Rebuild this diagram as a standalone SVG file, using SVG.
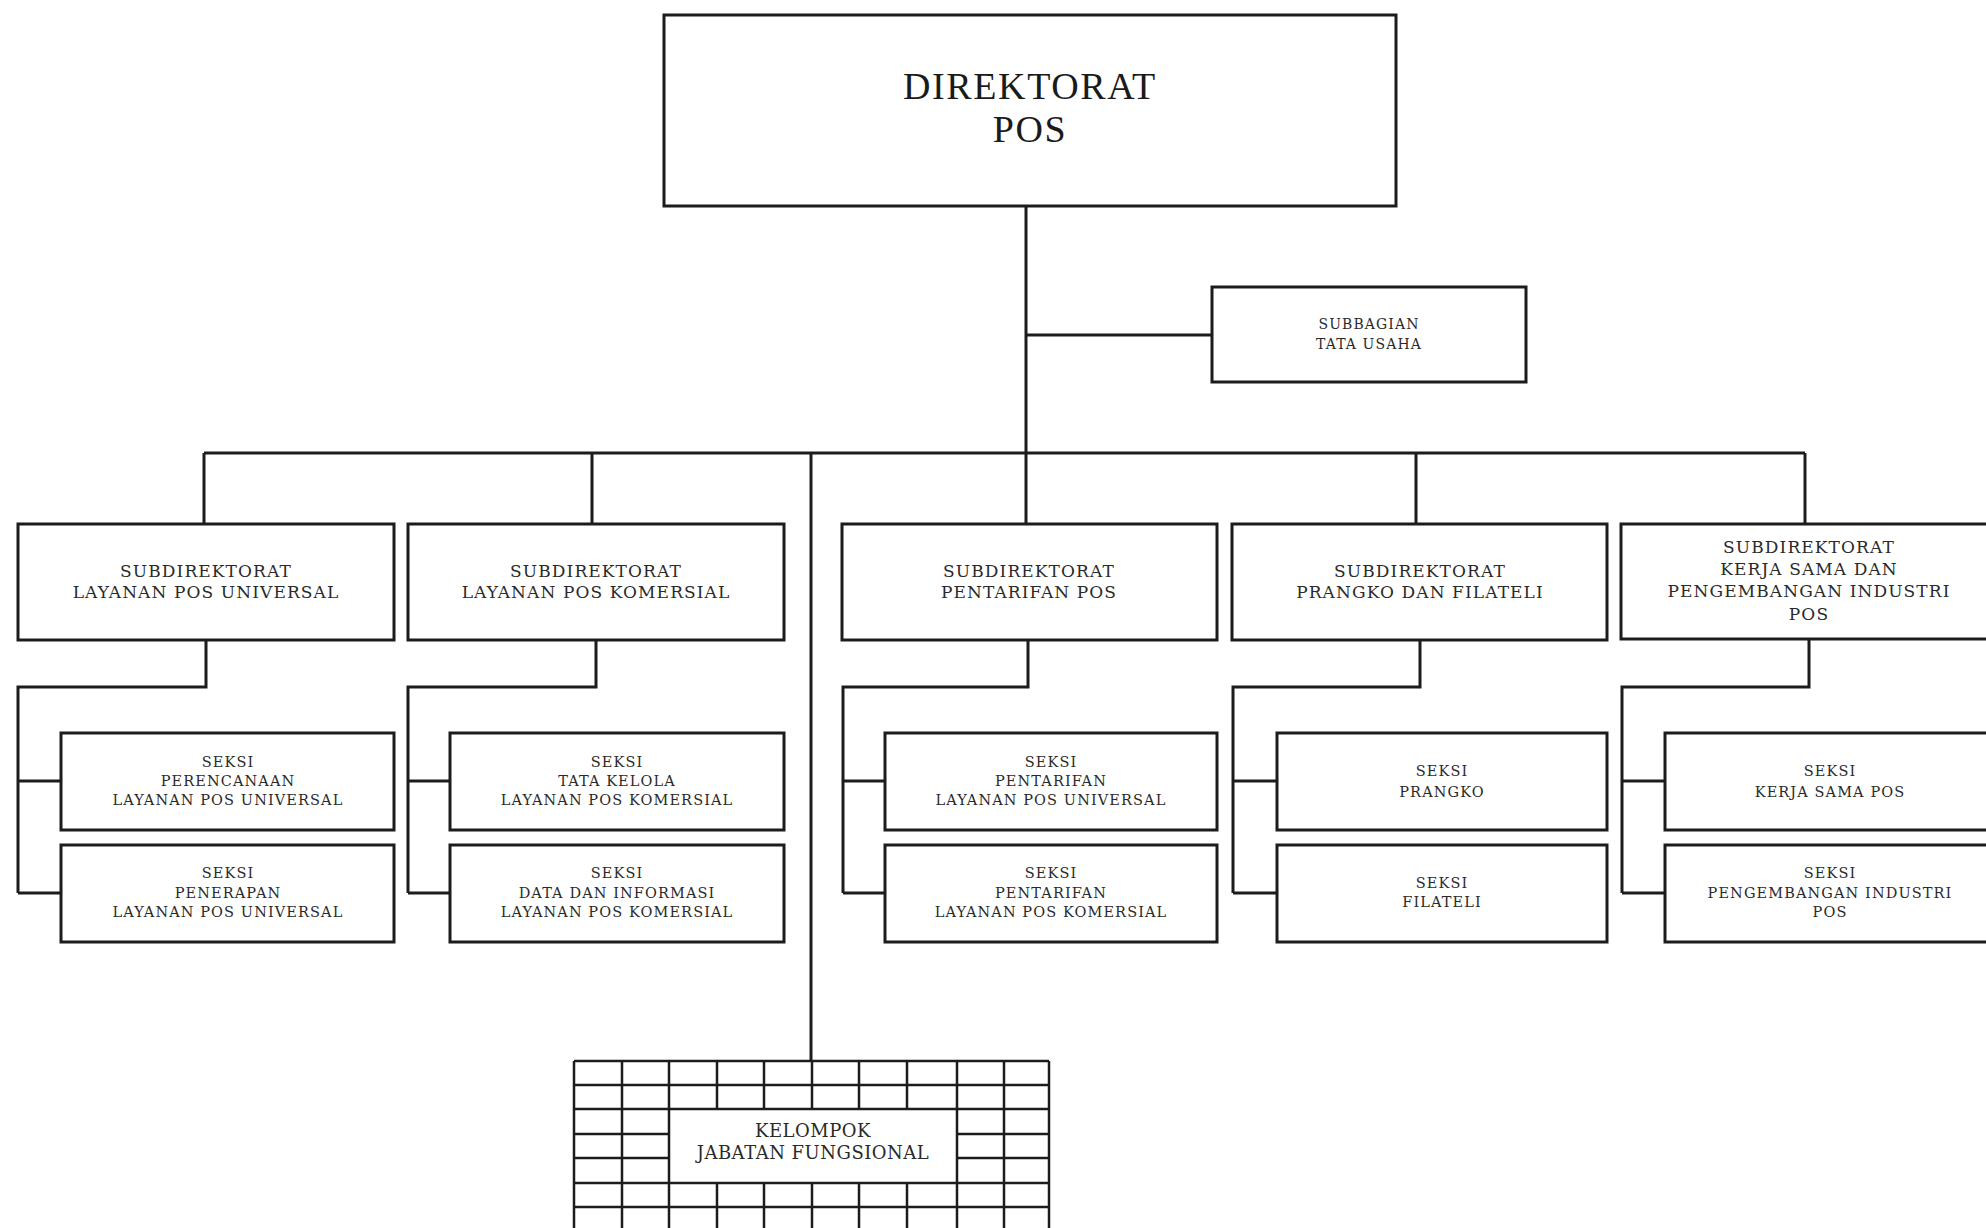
<svg xmlns="http://www.w3.org/2000/svg" width="1986" height="1228" viewBox="0 0 1986 1228">
<style>
.box{fill:#fff;stroke:#1c1c1c;stroke-width:3}
.ln{fill:none;stroke:#1c1c1c;stroke-width:3}
.grid{fill:none;stroke:#1c1c1c;stroke-width:2.5}
.t{font-family:"DejaVu Serif","Liberation Serif",serif;fill:#2a2a2a;text-anchor:middle}
.top{font-family:"Liberation Serif",serif;font-size:38px;letter-spacing:1.6px;fill:#1a1a1a;text-anchor:middle}
.sd{font-size:17px;letter-spacing:1.1px}
.sk{font-size:14.5px;letter-spacing:1.1px}
.sb{font-size:14px;letter-spacing:1.1px}
.kj{font-size:18px;letter-spacing:0.5px}
</style>
<rect width="1986" height="1228" fill="#fff"/>
<g id="connectors">
<path class="ln" d="M1026 206V523M204 453H1805M204 453V523M592 453V523M1416 453V523M1805 453V523M1026 335H1212M811 453V1061"/>
<path class="ln" d="M206 640V687H18V893M18 781H61M18 893H61"/>
<path class="ln" d="M596 640V687H408V893M408 781H450M408 893H450"/>
<path class="ln" d="M1028 640V687H843V893M843 781H885M843 893H885"/>
<path class="ln" d="M1420 640V687H1233V893M1233 781H1277M1233 893H1277"/>
<path class="ln" d="M1809 640V687H1622V893M1622 781H1665M1622 893H1665"/>
</g>
<g id="direktorat">
<rect class="box" x="664" y="15" width="732" height="191"/>
<text class="top" x="1030" y="99">DIREKTORAT</text>
<text class="top" x="1030" y="142">POS</text>
</g>
<g id="subbagian">
<rect class="box" x="1212" y="287" width="314" height="95"/>
<text class="t sb" x="1369" y="329">SUBBAGIAN</text>
<text class="t sb" x="1369" y="349">TATA USAHA</text>
</g>
<g id="subdit1">
<rect class="box" x="18" y="524" width="376" height="116"/>
<text class="t sd" x="206" y="577">SUBDIREKTORAT</text>
<text class="t sd" x="206" y="598">LAYANAN POS UNIVERSAL</text>
</g>
<g id="subdit2">
<rect class="box" x="408" y="524" width="376" height="116"/>
<text class="t sd" x="596" y="577">SUBDIREKTORAT</text>
<text class="t sd" x="596" y="598">LAYANAN POS KOMERSIAL</text>
</g>
<g id="subdit3">
<rect class="box" x="842" y="524" width="375" height="116"/>
<text class="t sd" x="1029" y="577">SUBDIREKTORAT</text>
<text class="t sd" x="1029" y="598">PENTARIFAN POS</text>
</g>
<g id="subdit4">
<rect class="box" x="1232" y="524" width="375" height="116"/>
<text class="t sd" x="1420" y="577">SUBDIREKTORAT</text>
<text class="t sd" x="1420" y="598">PRANGKO DAN FILATELI</text>
</g>
<g id="subdit5">
<rect class="box" x="1621" y="524" width="376" height="115"/>
<text class="t sd" x="1809" y="553">SUBDIREKTORAT</text>
<text class="t sd" x="1809" y="575">KERJA SAMA DAN</text>
<text class="t sd" x="1809" y="597">PENGEMBANGAN INDUSTRI</text>
<text class="t sd" x="1809" y="620">POS</text>
</g>
<g id="seksi1a">
<rect class="box" x="61" y="733" width="333" height="97"/>
<text class="t sk" x="228" y="767">SEKSI</text>
<text class="t sk" x="228" y="786">PERENCANAAN</text>
<text class="t sk" x="228" y="805">LAYANAN POS UNIVERSAL</text>
</g>
<g id="seksi1b">
<rect class="box" x="61" y="845" width="333" height="97"/>
<text class="t sk" x="228" y="878">SEKSI</text>
<text class="t sk" x="228" y="898">PENERAPAN</text>
<text class="t sk" x="228" y="917">LAYANAN POS UNIVERSAL</text>
</g>
<g id="seksi2a">
<rect class="box" x="450" y="733" width="334" height="97"/>
<text class="t sk" x="617" y="767">SEKSI</text>
<text class="t sk" x="617" y="786">TATA KELOLA</text>
<text class="t sk" x="617" y="805">LAYANAN POS KOMERSIAL</text>
</g>
<g id="seksi2b">
<rect class="box" x="450" y="845" width="334" height="97"/>
<text class="t sk" x="617" y="878">SEKSI</text>
<text class="t sk" x="617" y="898">DATA DAN INFORMASI</text>
<text class="t sk" x="617" y="917">LAYANAN POS KOMERSIAL</text>
</g>
<g id="seksi3a">
<rect class="box" x="885" y="733" width="332" height="97"/>
<text class="t sk" x="1051" y="767">SEKSI</text>
<text class="t sk" x="1051" y="786">PENTARIFAN</text>
<text class="t sk" x="1051" y="805">LAYANAN POS UNIVERSAL</text>
</g>
<g id="seksi3b">
<rect class="box" x="885" y="845" width="332" height="97"/>
<text class="t sk" x="1051" y="878">SEKSI</text>
<text class="t sk" x="1051" y="898">PENTARIFAN</text>
<text class="t sk" x="1051" y="917">LAYANAN POS KOMERSIAL</text>
</g>
<g id="seksi4a">
<rect class="box" x="1277" y="733" width="330" height="97"/>
<text class="t sk" x="1442" y="776">SEKSI</text>
<text class="t sk" x="1442" y="797">PRANGKO</text>
</g>
<g id="seksi4b">
<rect class="box" x="1277" y="845" width="330" height="97"/>
<text class="t sk" x="1442" y="888">SEKSI</text>
<text class="t sk" x="1442" y="907">FILATELI</text>
</g>
<g id="seksi5a">
<rect class="box" x="1665" y="733" width="332" height="97"/>
<text class="t sk" x="1830" y="776">SEKSI</text>
<text class="t sk" x="1830" y="797">KERJA SAMA POS</text>
</g>
<g id="seksi5b">
<rect class="box" x="1665" y="845" width="332" height="97"/>
<text class="t sk" x="1830" y="878">SEKSI</text>
<text class="t sk" x="1830" y="898">PENGEMBANGAN INDUSTRI</text>
<text class="t sk" x="1830" y="917">POS</text>
</g>
<g id="kelompok">
<rect x="574" y="1061" width="475" height="180" fill="#fff"/>
<path class="grid" d="M574 1061V1240M622 1061V1240M669 1061V1240M957 1061V1240M1004 1061V1240M1049 1061V1240
M717 1061V1109M764 1061V1109M812 1061V1109M859 1061V1109M907 1061V1109
M717 1183V1240M764 1183V1240M812 1183V1240M859 1183V1240M907 1183V1240
M574 1061H1049M574 1085H1049M574 1109H1049M574 1183H1049M574 1207H1049M574 1231H1049
M574 1134H669M574 1158H669M957 1134H1049M957 1158H1049"/>
<text class="t kj" x="813" y="1137">KELOMPOK</text>
<text class="t kj" x="813" y="1159">JABATAN FUNGSIONAL</text>
</g>
</svg>
